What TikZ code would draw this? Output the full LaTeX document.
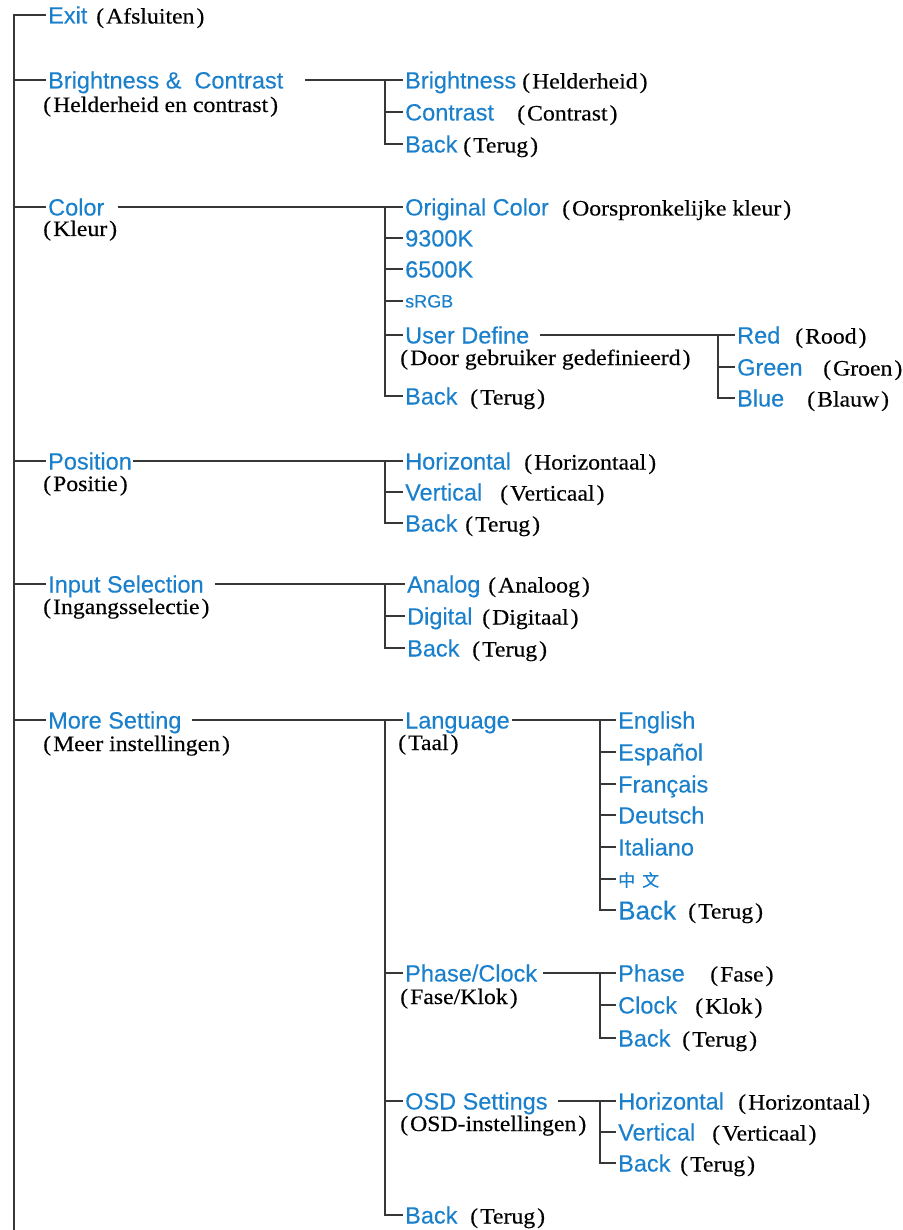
\documentclass[tikz,border=0pt]{standalone}
\usepackage{fontspec}
\setmainfont{Liberation Serif}
\newfontfamily\blfam[FakeBold=0.25]{Liberation Sans}
\newfontfamily\srfam[FakeStretch=1.08,FakeBold=0.3]{Liberation Serif}
\newfontfamily\zhfam[FakeBold=0.4]{Noto Sans CJK SC}
\definecolor{myblue}{RGB}{26,128,204}
\definecolor{lncol}{RGB}{55,55,55}
\newcommand\pp[1]{(\kern2pt#1\kern2pt)}
\tikzset{
  bl/.style={font=\blfam\fontsize{23.5}{28}\selectfont, text=myblue, anchor=west, inner xsep=2pt, inner ysep=0pt, text height=17pt, text depth=0pt},
  lb/.style={font=\srfam\fontsize{22}{26}\selectfont, text=black, anchor=base west, inner sep=0pt},
  sub/.style={font=\srfam\fontsize{22}{26}\selectfont, text=black, anchor=west, inner sep=0pt, text height=14pt, text depth=4pt},
  ln/.style={draw=lncol, line width=2pt, line join=miter, line cap=butt},
}
\begin{document}
\begin{tikzpicture}[x=1pt,y=-1pt]
\useasboundingbox (0,0) rectangle (902,1230);
% top level
\coordinate (mEnd) at (14,1230);
\node[bl] (exit) at (46,15) {Exit};
\node[lb] (exitL) at (96,23.5) {\pp{Afsluiten}};
\node[bl] (bc) at (46,80) {Brightness \& \ Contrast};
\node[sub] (bcS) at (43,107) {\pp{Helderheid en contrast}};
\node[bl] (col) at (46,207) {Color};
\node[sub] (colS) at (43,231) {\pp{Kleur}};
\node[bl] (pos) at (46,461) {Position};
\node[sub] (posS) at (43,486) {\pp{Positie}};
\node[bl] (inp) at (46,584) {Input Selection};
\node[sub] (inpS) at (43,609) {\pp{Ingangsselectie}};
\node[bl] (more) at (46,720) {More Setting};
\node[sub] (moreS) at (43,746) {\pp{Meer instellingen}};
\draw[ln] (exit.west) -| (mEnd);
\foreach \n in {bc,col,pos,inp,more} \draw[ln] (\n.west) -- (\n.west -| mEnd);

% Brightness & Contrast
\coordinate (bcA) at (305,80);
\coordinate (t2) at (385,80);
\node[bl] (bri) at (403,80) {Brightness};
\node[lb] (briL) at (522,88.5) {\pp{Helderheid}};
\node[bl] (con) at (403,112) {Contrast};
\node[lb] (conL) at (517,120.5) {\pp{Contrast}};
\node[bl] (bcb) at (403,144) {Back};
\node[lb] (bcbL) at (463,152.5) {\pp{Terug}};
\draw[ln] (bcA) -- (bri.west);
\draw[ln] (t2) |- (bcb.west);
\draw[ln] (con.west) -- (con.west -| t2);

% Color
\coordinate (colA) at (118,207);
\coordinate (t3) at (385,207);
\node[bl] (org) at (403,207) {Original Color};
\node[lb] (orgL) at (562,215.5) {\pp{Oorspronkelijke kleur}};
\node[bl] (k93) at (403,238) {9300K};
\node[bl] (k65) at (403,269) {6500K};
\node[bl, font=\blfam\fontsize{18}{22}\selectfont, text height=13pt] (srgb) at (403,301) {sRGB};
\node[bl] (ud) at (403,335) {User Define};
\node[sub] (udS) at (400,360) {\pp{Door gebruiker gedefinieerd}};
\node[bl] (colb) at (403,396) {Back};
\node[lb] (colbL) at (470,404.5) {\pp{Terug}};
\draw[ln] (colA) -- (org.west);
\draw[ln] (t3) |- (colb.west);
\foreach \n in {k93,k65,srgb,ud} \draw[ln] (\n.west) -- (\n.west -| t3);
% User define
\coordinate (udA) at (540,335);
\coordinate (t4) at (718,335);
\node[bl] (red) at (735,335) {Red};
\node[lb] (redL) at (795,343.5) {\pp{Rood}};
\node[bl] (grn) at (735,367) {Green};
\node[lb] (grnL) at (823,375.5) {\pp{Groen}};
\node[bl] (blu) at (735,398) {Blue};
\node[lb] (bluL) at (807,406.5) {\pp{Blauw}};
\draw[ln] (udA) -- (red.west);
\draw[ln] (t4) |- (blu.west);
\draw[ln] (grn.west) -- (grn.west -| t4);

% Position
\coordinate (posA) at (133,461);
\coordinate (t5) at (385,461);
\node[bl] (ph) at (403,461) {Horizontal};
\node[lb] (phL) at (524,469.5) {\pp{Horizontaal}};
\node[bl] (pv) at (403,492) {Vertical};
\node[lb] (pvL) at (500,500.5) {\pp{Verticaal}};
\node[bl] (pb) at (403,523) {Back};
\node[lb] (pbL) at (465,531.5) {\pp{Terug}};
\draw[ln] (posA) -- (ph.west);
\draw[ln] (t5) |- (pb.west);
\draw[ln] (pv.west) -- (pv.west -| t5);

% Input Selection
\coordinate (inpA) at (215,584);
\coordinate (t6) at (385,584);
\node[bl] (ana) at (405,584) {Analog};
\node[lb] (anaL) at (488,592.5) {\pp{Analoog}};
\node[bl] (dig) at (405,616) {Digital};
\node[lb] (digL) at (482,624.5) {\pp{Digitaal}};
\node[bl] (inb) at (405,648) {Back};
\node[lb] (inbL) at (472,656.5) {\pp{Terug}};
\draw[ln] (inpA) -- (ana.west);
\draw[ln] (t6) |- (inb.west);
\draw[ln] (dig.west) -- (dig.west -| t6);

% More Setting
\coordinate (moreA) at (192,720);
\coordinate (t7) at (385,720);
\node[bl] (lang) at (403,720) {Language};
\node[sub] (langS) at (398,745) {\pp{Taal}};
\node[bl] (pc) at (403,973) {Phase/Clock};
\node[sub] (pcS) at (400,999) {\pp{Fase/Klok}};
\node[bl] (osd) at (403,1101) {OSD Settings};
\node[sub] (osdS) at (400,1126) {\pp{OSD-instellingen}};
\node[bl] (mb) at (403,1215) {Back};
\node[lb] (mbL) at (470,1223.5) {\pp{Terug}};
\draw[ln] (moreA) -- (lang.west);
\draw[ln] (t7) |- (mb.west);
\foreach \n in {pc,osd} \draw[ln] (\n.west) -- (\n.west -| t7);

% Language
\coordinate (langA) at (512,720);
\coordinate (t8) at (600,720);
\node[bl] (en) at (616,720) {English};
\node[bl] (es) at (616,752) {Español};
\node[bl] (fr) at (616,784) {Français};
\node[bl] (de) at (616,815) {Deutsch};
\node[bl] (it) at (616,847) {Italiano};
\node[bl, font=\zhfam\fontsize{17}{20}\selectfont, text height=15pt] (zh) at (616,879) {中\hspace{7pt}文};
\node[bl, font=\blfam\fontsize{26}{30}\selectfont, text height=19pt] (lgb) at (616,910) {Back};
\node[lb] (lgbL) at (688,918.5) {\pp{Terug}};
\draw[ln] (langA) -- (en.west);
\draw[ln] (t8) |- (lgb.west);
\foreach \n in {es,fr,de,it,zh} \draw[ln] (\n.west) -- (\n.west -| t8);

% Phase/Clock
\coordinate (pcA) at (543,973);
\coordinate (t9) at (600,973);
\node[bl] (pha) at (616,973) {Phase};
\node[lb] (phaL) at (710,981.5) {\pp{Fase}};
\node[bl] (clk) at (616,1005) {Clock};
\node[lb] (clkL) at (695,1013.5) {\pp{Klok}};
\node[bl] (pcb) at (616,1038) {Back};
\node[lb] (pcbL) at (682,1046.5) {\pp{Terug}};
\draw[ln] (pcA) -- (pha.west);
\draw[ln] (t9) |- (pcb.west);
\draw[ln] (clk.west) -- (clk.west -| t9);

% OSD Settings
\coordinate (osdA) at (558,1101);
\coordinate (t10) at (600,1101);
\node[bl] (oh) at (616,1101) {Horizontal};
\node[lb] (ohL) at (738,1109.5) {\pp{Horizontaal}};
\node[bl] (ov) at (616,1132) {Vertical};
\node[lb] (ovL) at (712,1140.5) {\pp{Verticaal}};
\node[bl] (ob) at (616,1163) {Back};
\node[lb] (obL) at (680,1171.5) {\pp{Terug}};
\draw[ln] (osdA) -- (oh.west);
\draw[ln] (t10) |- (ob.west);
\draw[ln] (ov.west) -- (ov.west -| t10);
\end{tikzpicture}
\end{document}
